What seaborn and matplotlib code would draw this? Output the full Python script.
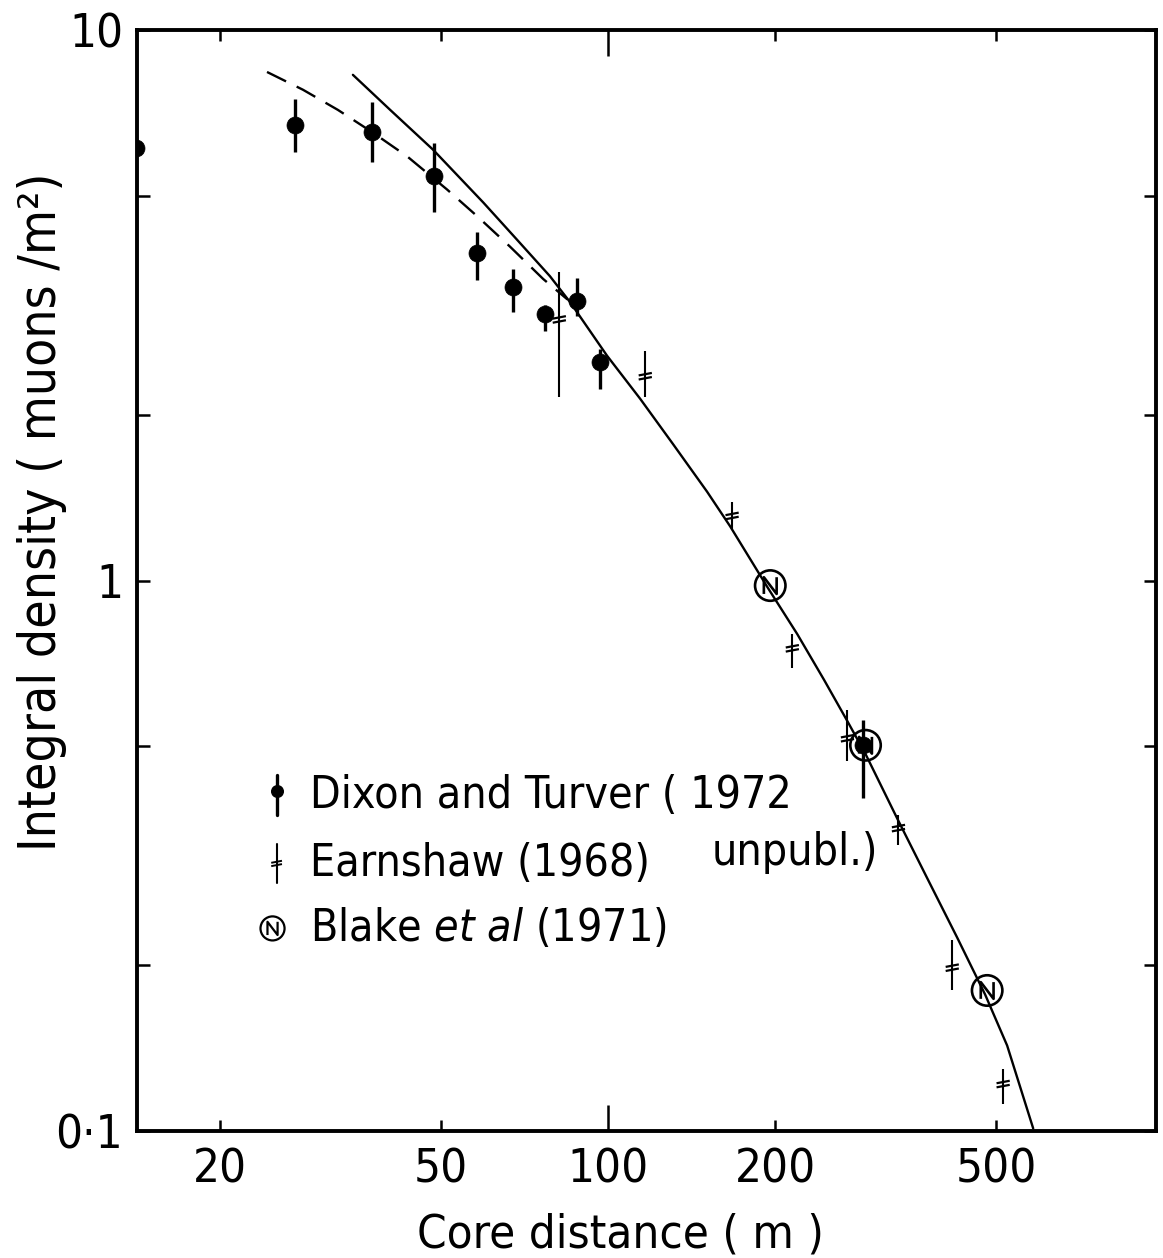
import numpy as np
import matplotlib
matplotlib.use("Agg")
import matplotlib.pyplot as plt
from matplotlib.path import Path
import seaborn as sns

# ---- data -------------------------------------------------------------
# Dixon and Turver (1972, unpublished): filled circles with error bars
dixon_r = [14.1, 27.3, 37.6, 48.6, 58.1, 67.5, 77.1, 87.9, 96.8, 288.0]
dixon_rho = [6.11, 6.73, 6.53, 5.42, 3.94, 3.42, 3.05, 3.22, 2.49, 0.502]
dixon_lo = [6.11, 6.00, 5.75, 4.68, 3.52, 3.07, 2.84, 3.02, 2.23, 0.403]
dixon_hi = [6.11, 7.50, 7.40, 6.24, 4.29, 3.68, 3.17, 3.55, 2.63, 0.557]

# Earnshaw (1968)
earn_r = [81.7, 116.7, 167.3, 214.8, 270.0, 333.6, 417.0, 515.0]
earn_rho = [2.98, 2.35, 1.31, 0.753, 0.517, 0.355, 0.198, 0.1217]
earn_lo = [2.15, 2.15, 1.24, 0.693, 0.470, 0.331, 0.180, 0.112]
earn_hi = [3.63, 2.61, 1.39, 0.800, 0.581, 0.375, 0.222, 0.1295]

# Blake et al (1971)
blake_r = [196.0, 291.0, 482.0]
blake_rho = [0.979, 0.502, 0.180]

# Calculated lateral distributions
solid_r = [34.7, 40.5, 48.4, 59.6, 68.4, 78.6, 85.5, 99.6, 114.2, 130.9,
           150.8, 165.9, 193.4, 219.1, 245.0, 269.7, 291.0, 331.7, 375.8,
           425.6, 477.9, 523.6, 583.4]
solid_rho = [8.29, 7.16, 6.06, 4.86, 4.17, 3.57, 3.20, 2.56, 2.14, 1.77,
             1.45, 1.255, 0.975, 0.800, 0.660, 0.556, 0.484, 0.370, 0.288,
             0.2246, 0.177, 0.143, 0.1011]
dash_r = [24.3, 28.2, 32.6, 37.7, 43.5, 51.3, 58.1, 66.6, 76.4, 84.5]
dash_rho = [8.39, 7.79, 7.16, 6.51, 5.89, 5.13, 4.59, 4.04, 3.53, 3.24]

x_major = [100]
x_minor = [20, 50, 200, 500]
y_major = [0.1, 1, 10]
y_major_labels = ["0·1", "1", "10"]
y_minor = [0.2, 0.5, 2, 5]

# ---- style ------------------------------------------------------------
sns.set_theme(style="ticks")
plt.rcParams["font.family"] = ["DejaVu Sans"]
plt.rcParams["font.stretch"] = "condensed"
plt.rcParams["axes.linewidth"] = 2.8

FS = 32

fig = plt.figure(figsize=(11.63, 12.58), dpi=100)
fig.patch.set_facecolor("white")
ax = fig.add_axes([137 / 1163, 1 - 1131 / 1258, 1019 / 1163, 1101 / 1258])
ax.set_facecolor("white")
ax.set_xscale("log")
ax.set_yscale("log")
ax.set_xlim(14.17, 971)
ax.set_ylim(0.1, 10)

# curves
sns.lineplot(x=solid_r, y=solid_rho, ax=ax, color="black", lw=1.7,
             sort=False, estimator=None)
sns.lineplot(x=dash_r, y=dash_rho, ax=ax, color="black", lw=1.7,
             sort=False, estimator=None, linestyle=(0, (9, 5)))

# custom markers
earn_marker = Path([(-1, 0.12), (1, 0.5), (-1, -0.5), (1, -0.12)],
                   [Path.MOVETO, Path.LINETO, Path.MOVETO, Path.LINETO])
circ = Path.unit_circle()
n_path = Path([(-0.42, -0.55), (-0.42, 0.55), (0.42, -0.55), (0.42, 0.55)],
              [Path.MOVETO, Path.LINETO, Path.LINETO, Path.LINETO])
blake_marker = Path.make_compound_path(circ, n_path)

# error bars
ax.vlines(dixon_r, dixon_lo, dixon_hi, color="black", lw=2.4)
ax.vlines(earn_r, earn_lo, earn_hi, color="black", lw=1.5)

# points
sns.scatterplot(x=dixon_r, y=dixon_rho, ax=ax, marker="o", s=150,
                color="black", edgecolor="black", linewidth=0.5, zorder=4)
sns.scatterplot(x=earn_r, y=earn_rho, ax=ax, marker=earn_marker, s=90,
                facecolor="none", edgecolor="black", linewidth=1.6, zorder=4)
sns.scatterplot(x=blake_r, y=blake_rho, ax=ax, marker=blake_marker, s=480,
                facecolor="none", edgecolor="black", linewidth=1.9, zorder=5)

# ticks
ax.xaxis.set_major_locator(matplotlib.ticker.FixedLocator(x_major))
ax.xaxis.set_minor_locator(matplotlib.ticker.FixedLocator(x_minor))
ax.xaxis.set_major_formatter(matplotlib.ticker.FixedFormatter([str(v) for v in x_major]))
ax.xaxis.set_minor_formatter(matplotlib.ticker.FixedFormatter([str(v) for v in x_minor]))
ax.yaxis.set_major_locator(matplotlib.ticker.FixedLocator(y_major))
ax.yaxis.set_major_formatter(matplotlib.ticker.FixedFormatter(y_major_labels))
ax.yaxis.set_minor_locator(matplotlib.ticker.FixedLocator(y_minor))
ax.yaxis.set_minor_formatter(matplotlib.ticker.NullFormatter())

ax.tick_params(axis="both", which="both", direction="in", top=True,
               right=True, width=1.8, labelsize=FS + 2, colors="black")
ax.tick_params(axis="x", which="major", length=19, pad=12)
ax.tick_params(axis="x", which="minor", length=8, pad=12)
ax.tick_params(axis="y", which="both", length=9, pad=10)

for s in ax.spines.values():
    s.set_color("black")
    s.set_linewidth(2.8)

ax.set_xlabel("Core distance ( m )", fontsize=FS + 2, color="black")
ax.set_ylabel("Integral density ( muons /m²)", fontsize=FS + 5, color="black")
ax.xaxis.set_label_coords(0.474, -0.0736)
ax.yaxis.set_label_coords(-0.069, 0.562)

# key
T = ax.transAxes
kx = 0.137
rows = [0.305, 0.243, 0.184]
ax.plot([kx, kx], [rows[0] - 0.018, rows[0] + 0.018], color="black", lw=2.4,
        transform=T, clip_on=False)
ax.scatter([kx], [rows[0] + 0.004], marker="o", s=70, color="black", transform=T)
ax.plot([kx, kx], [rows[1] - 0.018, rows[1] + 0.018], color="black", lw=1.5,
        transform=T, clip_on=False)
ax.scatter([kx], [rows[1]], marker=earn_marker, s=60, facecolor="none",
           edgecolor="black", linewidth=1.4, transform=T)
ax.scatter([kx - 0.004], [rows[2]], marker=blake_marker, s=300, facecolor="none",
           edgecolor="black", linewidth=1.6, transform=T)

tx = 0.170
ax.text(tx, rows[0], "Dixon and Turver ( 1972", transform=T, fontsize=FS,
        va="center", ha="left", color="black")
ax.text(0.564, 0.253, "unpubl.)", transform=T, fontsize=FS,
        va="center", ha="left", color="black")
ax.text(tx, rows[1], "Earnshaw (1968)", transform=T, fontsize=FS,
        va="center", ha="left", color="black")
ax.text(tx, rows[2], "Blake $\\it{et\\ al}$ (1971)", transform=T, fontsize=FS,
        va="center", ha="left", color="black")

fig.savefig("out.png", dpi=100, facecolor="white")
